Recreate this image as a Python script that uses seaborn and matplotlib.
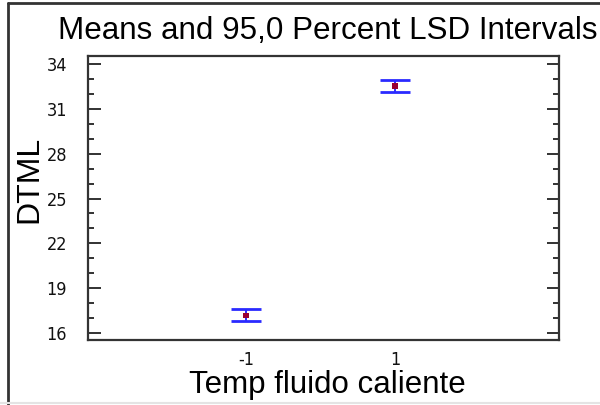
import matplotlib
matplotlib.use("Agg")
import matplotlib.pyplot as plt
from matplotlib.lines import Line2D
from matplotlib.ticker import MultipleLocator, FixedLocator
import numpy as np
import pandas as pd
import seaborn as sns

# Factor levels, group means and 95% LSD interval bounds
levels = [-1, 1]
level_labels = ["-1", "1"]
means = [17.19, 32.53]
lower = [16.79, 32.15]
upper = [17.59, 32.91]
y_ticks = [16, 19, 22, 25, 28, 31, 34]

df = pd.DataFrame({"level": levels, "mean": means, "lower": lower, "upper": upper})

sns.set_theme(style="white")
plt.rcParams["font.family"] = ["Liberation Sans", "DejaVu Sans"]

fig = plt.figure(figsize=(6.0, 4.05), dpi=100)
ax = fig.add_axes([88 / 600, 1 - 340 / 405, 471 / 600, 284 / 405])

# LSD intervals
ax.errorbar(
    df["level"], df["mean"],
    yerr=[df["mean"] - df["lower"], df["upper"] - df["mean"]],
    fmt="none", ecolor="#2a2aff", elinewidth=1.4, capsize=10.5, capthick=2.0,
    zorder=2,
)
# Group means
sns.scatterplot(
    data=df, x="level", y="mean", ax=ax, marker="s", s=14,
    color="#990033", edgecolor="none", zorder=3, legend=False,
)

ax.set_xlim(-3.12, 3.2)
ax.set_ylim(15.53, 34.54)
ax.xaxis.set_major_locator(FixedLocator(levels))
ax.set_xticklabels(level_labels)
ax.yaxis.set_major_locator(FixedLocator(y_ticks))
ax.yaxis.set_minor_locator(MultipleLocator(1))

for lab in ax.get_yticklabels() + ax.get_xticklabels():
    lab.set_fontfamily(["DejaVu Sans"])
    lab.set_fontstretch("condensed")
    lab.set_fontsize(13)
    lab.set_color("#111111")

ax.tick_params(axis="y", which="major", direction="in", length=9, width=1.3,
               left=True, right=True, color="#222222", pad=15)
ax.tick_params(axis="y", which="minor", direction="in", length=4.5, width=1.3,
               left=True, right=True, color="#222222")
ax.tick_params(axis="x", which="both", length=0, pad=8)

for sp in ax.spines.values():
    sp.set_visible(True)
    sp.set_color("#333333")
    sp.set_linewidth(1.6)

ax.set_xlabel("Temp fluido caliente", fontsize=22.5, color="black")
ax.set_ylabel("DTML", fontsize=23, color="black")
ax.xaxis.set_label_coords(0.508, -0.107)
ax.yaxis.set_label_coords(-0.093, 0.565)

fig.text(328 / 600, 1 - 39 / 405, "Means and 95,0 Percent LSD Intervals",
         ha="center", va="baseline", fontsize=22.6, color="black")

# Outer frame
fig.add_artist(Line2D([8 / 600, 8 / 600], [0, 1 - 3 / 405], transform=fig.transFigure,
                      color="#333333", linewidth=2))
fig.add_artist(Line2D([8 / 600, 1], [1 - 3 / 405, 1 - 3 / 405], transform=fig.transFigure,
                      color="#333333", linewidth=2))
fig.add_artist(Line2D([0, 1], [1 - 403 / 405, 1 - 403 / 405], transform=fig.transFigure,
                      color="#e4e4e4", linewidth=1.5))

fig.savefig("out.png", dpi=100, facecolor="white")
